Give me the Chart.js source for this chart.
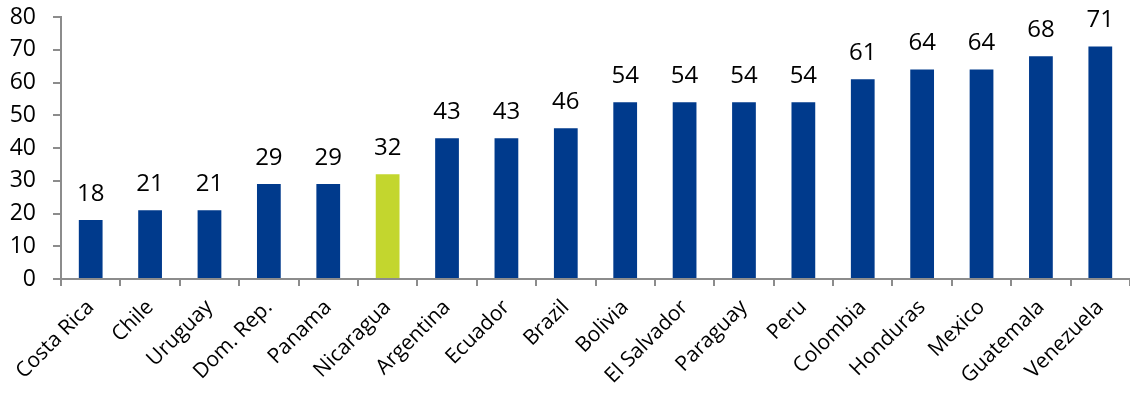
<!DOCTYPE html>
<html>
<head>
<meta charset="utf-8">
<script src="https://cdn.jsdelivr.net/npm/chart.js@4/dist/chart.umd.min.js"></script>
<style>
  html, body { margin: 0; padding: 0; background: #fff; }
  #wrap { width: 1130px; height: 396px; }
</style>
</head>
<body>
<div id="wrap"><canvas id="barChart"></canvas></div>
<script>
const countries = ['Costa Rica', 'Chile', 'Uruguay', 'Dom. Rep.', 'Panama', 'Nicaragua',
  'Argentina', 'Ecuador', 'Brazil', 'Bolivia', 'El Salvador', 'Paraguay', 'Peru',
  'Colombia', 'Honduras', 'Mexico', 'Guatemala', 'Venezuela'];
const values = [18, 21, 21, 29, 29, 32, 43, 43, 46, 54, 54, 54, 54, 61, 64, 64, 68, 71];
const highlight = 'Nicaragua';
const yTicks = [0, 10, 20, 30, 40, 50, 60, 70, 80];

const BLUE = '#003A8C';
const GREEN = '#C3D62E';
const AXIS = '#8C8C8C';
const FONT = "'Open Sans', 'Noto Sans', sans-serif";

// numbers above each bar
const valueLabels = {
  id: 'valueLabels',
  afterDatasetsDraw(chart) {
    const ctx = chart.ctx;
    const meta = chart.getDatasetMeta(0);
    ctx.save();
    ctx.font = '24px ' + FONT;
    ctx.fillStyle = '#000';
    ctx.textAlign = 'center';
    ctx.textBaseline = 'alphabetic';
    meta.data.forEach((bar, i) => {
      ctx.fillText(values[i], bar.x, bar.y - 19);
    });
    ctx.restore();
  }
};

new Chart(document.getElementById('barChart'), {
  type: 'bar',
  data: {
    labels: countries,
    datasets: [{
      data: values,
      backgroundColor: countries.map(c => c === highlight ? GREEN : BLUE),
      barPercentage: 0.8,
      categoryPercentage: 0.5
    }]
  },
  options: {
    responsive: true,
    maintainAspectRatio: false,
    animation: false,
    layout: { padding: { top: 17, right: 0, left: 0, bottom: 0 } },
    plugins: {
      legend: { display: false },
      tooltip: { enabled: false }
    },
    scales: {
      x: {
        border: { color: AXIS, width: 2 },
        grid: { drawOnChartArea: false, drawTicks: true, tickLength: 7, color: AXIS, lineWidth: 2, offset: true },
        ticks: {
          color: '#000',
          font: { family: FONT, size: 21 },
          maxRotation: 45,
          minRotation: 45,
          padding: 9,
          autoSkip: false
        },
        afterFit(scale) { scale.height = 117; }
      },
      y: {
        min: 0,
        max: 80,
        afterBuildTicks(scale) { scale.ticks = yTicks.map(v => ({ value: v })); },
        border: { color: AXIS, width: 2 },
        grid: { drawOnChartArea: false, drawTicks: true, tickLength: 8, color: AXIS, lineWidth: 2 },
        ticks: {
          color: '#000',
          font: { family: FONT, size: 23 },
          padding: 17
        },
        afterFit(scale) {
          scale.width = 61;
          // the wide tick padding would otherwise push the plot down
          scale.paddingTop = 0;
          scale.paddingBottom = 0;
        }
      }
    }
  },
  plugins: [valueLabels]
});
</script>
</body>
</html>
